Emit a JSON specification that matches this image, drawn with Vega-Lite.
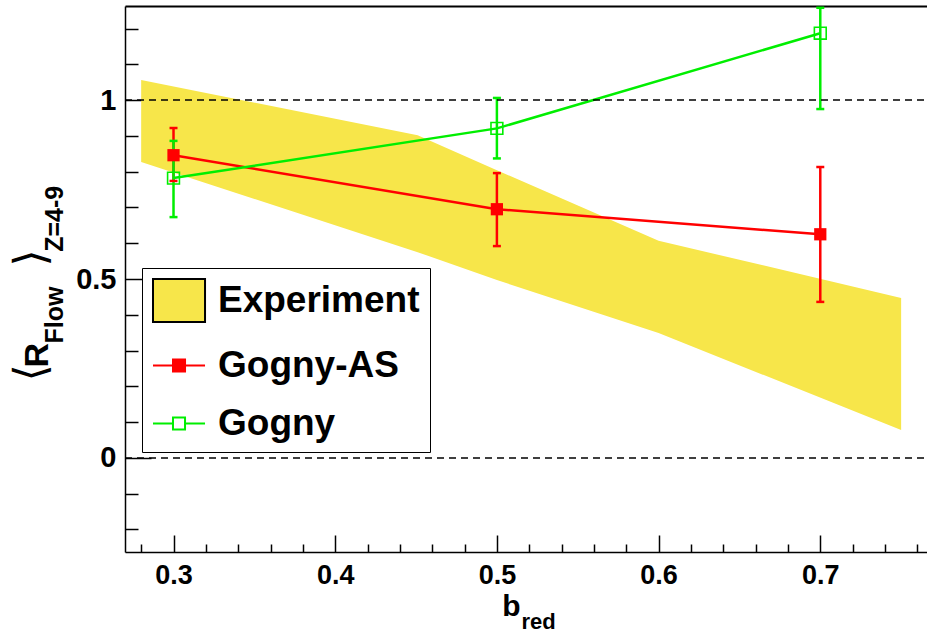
{
  "$schema": "https://vega.github.io/schema/vega-lite/v6.json",
  "width": 802,
  "height": 546,
  "autosize": {"type": "none"},
  "padding": {"left": 125, "top": 6, "right": 0, "bottom": 82},
  "background": "white",
  "config": {
    "view": {"stroke": null},
    "axis": {
      "grid": false,
      "domainColor": "#000000",
      "domainWidth": 1.5,
      "tickColor": "#000000",
      "tickWidth": 1.5,
      "labelFont": "Liberation Sans",
      "labelFontWeight": "bold",
      "labelColor": "#000000",
      "titleFont": "Liberation Sans",
      "titleFontWeight": "bold",
      "titleColor": "#000000",
      "labelOverlap": false,
      "labelFlush": false,
      "labelBound": false
    }
  },
  "datasets": {
    "band": [
      {"series": "Experiment", "x": 0.28, "hi": 1.056, "lo": 0.827},
      {"series": "Experiment", "x": 0.451, "hi": 0.902, "lo": 0.575},
      {"series": "Experiment", "x": 0.5, "hi": 0.804, "lo": 0.497},
      {"series": "Experiment", "x": 0.6, "hi": 0.607, "lo": 0.349},
      {"series": "Experiment", "x": 0.75, "hi": 0.447, "lo": 0.078}
    ],
    "model": [
      {"series": "Gogny-AS", "x": 0.3, "y": 0.846, "lo": 0.774, "hi": 0.922},
      {"series": "Gogny-AS", "x": 0.5, "y": 0.695, "lo": 0.592, "hi": 0.796},
      {"series": "Gogny-AS", "x": 0.7, "y": 0.625, "lo": 0.436, "hi": 0.813},
      {"series": "Gogny", "x": 0.3, "y": 0.782, "lo": 0.673, "hi": 0.886},
      {"series": "Gogny", "x": 0.5, "y": 0.921, "lo": 0.837, "hi": 1.006},
      {"series": "Gogny", "x": 0.7, "y": 1.187, "lo": 0.975, "hi": 1.258}
    ],
    "ref1": [{"x0": 0.27, "x1": 0.766, "y": 1}],
    "ref0": [{"x0": 0.27, "x1": 0.766, "y": 0}]
  },
  "resolve": {"scale": {"x": "independent", "y": "independent"}},
  "layer": [
    {
      "encoding": {
        "x": {
          "field": "x",
          "type": "quantitative",
          "scale": {"domain": [0.27, 0.766], "nice": false, "zero": false},
          "axis": {
            "values": [0.28, 0.3, 0.32, 0.34, 0.36, 0.38, 0.4, 0.42, 0.44, 0.46, 0.48, 0.5, 0.52, 0.54, 0.56, 0.58, 0.6, 0.62, 0.64, 0.66, 0.68, 0.7, 0.72, 0.74, 0.76],
            "tickSize": {"condition": {"test": "abs(datum.value*10 - round(datum.value*10)) < 0.000001", "value": -17}, "value": -8},
            "labelExpr": "abs(datum.value*10 - round(datum.value*10)) < 0.000001 ? format(datum.value, '.1f') : ''",
            "labelFontSize": {"condition": {"test": "abs(datum.value*10 - round(datum.value*10)) < 0.000001", "value": 27}, "value": 1},
            "labelOverlap": false,
            "labelPadding": 27,
            "title": "b",
            "titleFontSize": 30,
            "titleX": 386,
            "titleY": 63,
            "titleAlign": "center",
            "titleBaseline": "alphabetic"
          }
        }
      },
      "layer": [
        {
          "data": {"name": "band"},
          "mark": {"type": "area", "opacity": 1, "color": "#f7e64a"},
          "encoding": {
            "y": {
              "field": "hi",
              "type": "quantitative",
              "scale": {"domain": [-0.263, 1.263], "nice": false, "zero": false},
              "axis": {
                "values": [0, 0.5, 1],
                "tickSize": -26,
                "labelExpr": "format(datum.value, '~g')",
                "labelFontSize": 29,
                "labelOverlap": false,
                "labelPadding": 35,
                "title": "R",
                "titleFontSize": 34,
                "titleAngle": -90,
                "titleX": -78,
                "titleY": 361,
                "titleAlign": "left",
                "titleBaseline": "alphabetic"
              }
            },
            "y2": {"field": "lo"}
          }
        },
        {
          "data": {"name": "model"},
          "mark": {"type": "rule", "strokeWidth": 2.5, "clip": true},
          "encoding": {
            "y": {"field": "lo", "type": "quantitative"},
            "y2": {"field": "hi"},
            "color": {"condition": {"test": "datum.series === 'Gogny'", "value": "#00ee00"}, "value": "#ff0000"}
          }
        },
        {
          "data": {"name": "model"},
          "mark": {"type": "tick", "orient": "horizontal", "size": 8, "thickness": 2.5, "opacity": 1},
          "encoding": {
            "y": {"field": "lo", "type": "quantitative"},
            "color": {"condition": {"test": "datum.series === 'Gogny'", "value": "#00ee00"}, "value": "#ff0000"}
          }
        },
        {
          "data": {"name": "model"},
          "mark": {"type": "tick", "orient": "horizontal", "size": 8, "thickness": 2.5, "opacity": 1},
          "encoding": {
            "y": {"field": "hi", "type": "quantitative"},
            "color": {"condition": {"test": "datum.series === 'Gogny'", "value": "#00ee00"}, "value": "#ff0000"}
          }
        },
        {
          "data": {"name": "model"},
          "mark": {"type": "line", "strokeWidth": 2.5},
          "encoding": {
            "y": {"field": "y", "type": "quantitative"},
            "detail": {"field": "series"},
            "color": {"condition": {"test": "datum.series === 'Gogny'", "value": "#00ee00"}, "value": "#ff0000"}
          }
        },
        {
          "data": {"name": "model"},
          "transform": [{"filter": "datum.series === 'Gogny-AS'"}],
          "mark": {"type": "square", "filled": true, "size": 150, "color": "#ff0000", "opacity": 1},
          "encoding": {
            "y": {"field": "y", "type": "quantitative"}
          }
        },
        {
          "data": {"name": "model"},
          "transform": [{"filter": "datum.series === 'Gogny'"}],
          "mark": {"type": "square", "filled": false, "size": 140, "color": "#00ee00", "strokeWidth": 1.6, "opacity": 1},
          "encoding": {
            "y": {"field": "y", "type": "quantitative"}
          }
        },
        {
          "data": {"name": "model"},
          "transform": [{"filter": "datum.x < 0"}],
          "mark": {"type": "point", "opacity": 1},
          "encoding": {
            "y": {"field": "y", "type": "quantitative"},
            "shape": {
              "field": "series",
              "type": "nominal",
              "scale": {"domain": ["Experiment", "Gogny-AS", "Gogny"], "range": ["M-1,-1H1.42V1H-1Z", "M-1,0H1.42M-0.07,-0.28H0.49V0.28H-0.07Z", "M-1,0H-0.07M0.49,0H1.42M-0.07,-0.28H0.49V0.28H-0.07Z"]},
              "legend": {
                "orient": "none",
                "legendX": 17,
                "legendY": 262,
                "title": null,
                "fillColor": "white",
                "strokeColor": "#000000",
                "padding": 10,
                "rowPadding": 17,
                "symbolSize": 1849,
                "symbolStrokeWidth": 2,
                "symbolOpacity": 1,
                "labelFontSize": 37,
                "labelFont": "Liberation Sans",
                "labelFontWeight": "bold",
                "labelColor": "#000000",
                "labelOffset": 21,
                "labelLimit": 500
              }
            },
            "fill": {
              "field": "series",
              "type": "nominal",
              "scale": {"domain": ["Experiment", "Gogny-AS", "Gogny"], "range": ["#f7e64a", "#ff0000", "transparent"]}
            },
            "stroke": {
              "field": "series",
              "type": "nominal",
              "scale": {"domain": ["Experiment", "Gogny-AS", "Gogny"], "range": ["#000000", "#ff0000", "#00ee00"]}
            }
          }
        }
      ]
    },
    {
      "data": {"name": "ref1"},
      "mark": {"type": "rule", "strokeDash": [7, 5], "color": "#000000", "strokeWidth": 1.5},
      "encoding": {
        "x": {
          "field": "x0",
          "type": "quantitative",
          "scale": {"domain": [0.27, 0.766], "nice": false, "zero": false},
          "axis": {"orient": "bottom", "domain": false, "ticks": false, "labels": false, "title": "red", "titleFontSize": 22, "titleX": 413, "titleY": 76, "titleAlign": "center", "titleBaseline": "alphabetic"}
        },
        "x2": {"field": "x1"},
        "y": {
          "field": "y",
          "type": "quantitative",
          "scale": {"domain": [-0.263, 1.263], "nice": false, "zero": false},
          "axis": {
            "orient": "left",
            "domain": false,
            "ticks": true,
            "tickSize": -13,
            "values": [-0.2, -0.1, 0.1, 0.2, 0.3, 0.4, 0.6, 0.7, 0.8, 0.9, 1.1, 1.2],
            "labels": false,
            "title": "Flow\u00a0\u00a0\u00a0\u00a0\u00a0Z=4-9",
            "titleFontSize": 25,
            "titleAngle": -90,
            "titleX": -63,
            "titleY": 337,
            "titleAlign": "left",
            "titleBaseline": "alphabetic"
          }
        }
      }
    },
    {
      "data": {"name": "ref0"},
      "mark": {"type": "rule", "strokeDash": [7, 5], "color": "#000000", "strokeWidth": 1.5},
      "encoding": {
        "x": {
          "field": "x0",
          "type": "quantitative",
          "scale": {"domain": [0.27, 0.766], "nice": false, "zero": false},
          "axis": {"orient": "top", "domain": true, "domainWidth": 2, "ticks": false, "labels": false, "title": null}
        },
        "x2": {"field": "x1"},
        "y": {
          "field": "y",
          "type": "quantitative",
          "scale": {"domain": [-0.263, 1.263], "nice": false, "zero": false},
          "axis": {"orient": "left", "domain": false, "ticks": false, "labels": false, "title": "\u27e8\u00a0\u00a0\u00a0\u00a0\u00a0\u00a0\u00a0\u27e9", "titleFont": "DejaVu Sans", "titleFontWeight": "normal", "titleFontSize": 44, "titleAngle": -90, "titleX": -81, "titleY": 375, "titleAlign": "left", "titleBaseline": "alphabetic"}
        }
      }
    }
  ]
}
